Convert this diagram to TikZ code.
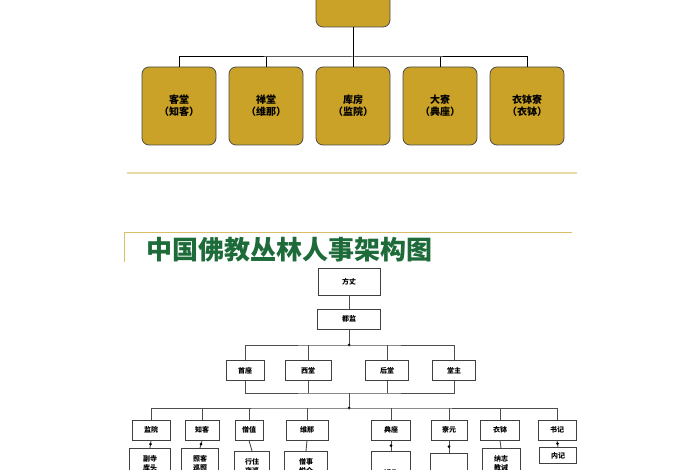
\documentclass[tikz,border=0pt]{standalone}
\usepackage{fontspec}
\usetikzlibrary{calc}
\setmainfont{Noto Sans CJK SC}
\begin{document}
\begin{tikzpicture}[x=1pt,y=-1pt,
 gold/.style={draw=black!70,fill=gbox,rounded corners=7pt,line width=0.8pt,minimum width=74pt,minimum height=78pt,font=\bfseries\fontsize{10}{12}\selectfont,align=center},
 wbox/.style={draw=black!75,fill=white,line width=0.9pt,minimum height=20pt,inner sep=1pt,font=\bfseries\fontsize{7}{9}\selectfont,align=center},
 ln/.style={draw=black!70,line width=0.9pt},
 dot/.style={circle,fill=black,inner sep=0pt,minimum size=3pt}]
\definecolor{gbox}{HTML}{C9A227}
\definecolor{tgreen}{HTML}{1E6B3A}
\useasboundingbox (0,0) rectangle (700,470);
\clip (0,0) rectangle (700,470);
% top part
\node[gold,minimum height=40pt] (top) at (353,7) {};
\foreach \n/\x/\t in {a/179/客堂\\（知客）,b/266/禅堂\\（维那）,c/353/库房\\（监院）,d/440/大寮\\（典座）,e/527/衣钵寮\\（衣钵）}
 \node[gold] (\n) at (\x,106) {\t};
\coordinate (j) at (353,57);
\draw[line width=1pt] (top.south) -- (j);
\draw[line width=1pt] (a.north) |- (j) -| (e.north);
\foreach \n in {b,c,d} \draw[line width=1pt] (\n.north) -- (\n.north |- j);
\draw[draw=gbox!40,line width=1.5pt] (127,173) -- (577,173);
% title
\draw[draw=gbox!70,line width=0.8pt] (124,262) -- (124,232) -- (572,232);
\node[anchor=west,text=tgreen,font=\bfseries\fontsize{26}{28}\selectfont,inner sep=0] (title) at (146,250) {中国佛教丛林人事架构图};
% chart
\node[wbox,minimum width=62pt,minimum height=27pt] (fz) at (349,281.5) {方丈};
\node[wbox,minimum width=63pt] (dj) at (349,319) {都监};
\draw[ln] (fz) -- (dj);
\node[wbox,minimum width=38pt] (s1) at (245,370.5) {首座};
\node[wbox,minimum width=46pt] (s2) at (308,370.5) {西堂};
\node[wbox,minimum width=43pt] (s3) at (387,370.5) {后堂};
\node[wbox,minimum width=43pt] (s4) at (454,370.5) {堂主};
\coordinate (h1) at (349,345);
\draw[ln] (dj) -- (h1);
\node[dot] at (h1) {};
\draw[ln] (s1.north) |- (h1) -| (s4.north);
\foreach \n in {s2,s3} \draw[ln] (\n.north) -- (\n.north |- h1);
\coordinate (h2) at (349,393);
\coordinate (h3) at (349,408);
\draw[ln] (s1.south) |- (h2) -| (s4.south);
\foreach \n in {s2,s3} \draw[ln] (\n.south) -- (\n.south |- h2);
\draw[ln] (h2) -- (h3);
\node[dot] at (h3) {};
\foreach \n/\x/\w/\t in {c1/151/38/监院,c2/202/34/知客,c3/249/28/僧值,c4/307/42/维那,c5/391/39/典座,c6/449/36/寮元,c7/500/39/衣钵,c8/557/38/书记}
 \node[wbox,minimum width=\w pt] (\n) at (\x,430) {\t};
\draw[ln] (c1.north) |- (h3) -| (c8.north);
\foreach \n in {c2,c3,c4,c5,c6,c7} \draw[ln] (\n.north) -- (\n.north |- h3);
\node[wbox,minimum width=41pt,minimum height=30pt,anchor=north] (d1) at (150,448) {副寺\\库头};
\node[wbox,minimum width=37pt,minimum height=30pt,anchor=north] (d2) at (200,448) {照客\\巡照};
\node[wbox,minimum width=35pt,minimum height=30pt,anchor=north] (d3) at (252,451) {行住\\夜巡};
\node[wbox,minimum width=43pt,minimum height=30pt,anchor=north] (d4) at (306,451) {僧事\\悦众};
\node[wbox,minimum width=39pt,minimum height=40pt,anchor=north] (d5) at (391,451) {\\饭头};
\node[wbox,minimum width=37pt,minimum height=40pt,anchor=north] (d6) at (449,453) {};
\node[wbox,minimum width=38pt,minimum height=30pt,anchor=north] (d7) at (501,448) {纳志\\教诫};
\node[wbox,minimum width=37pt,minimum height=16pt,anchor=north] (d8) at (558,447) {内记};
\foreach \i in {1,...,8} \draw[ln] (c\i.south) -- (d\i.north);
\foreach \i in {1,2,5,6,8} \node[dot] at ($(c\i.south)!0.5!(d\i.north)$) {};
\end{tikzpicture}
\end{document}
